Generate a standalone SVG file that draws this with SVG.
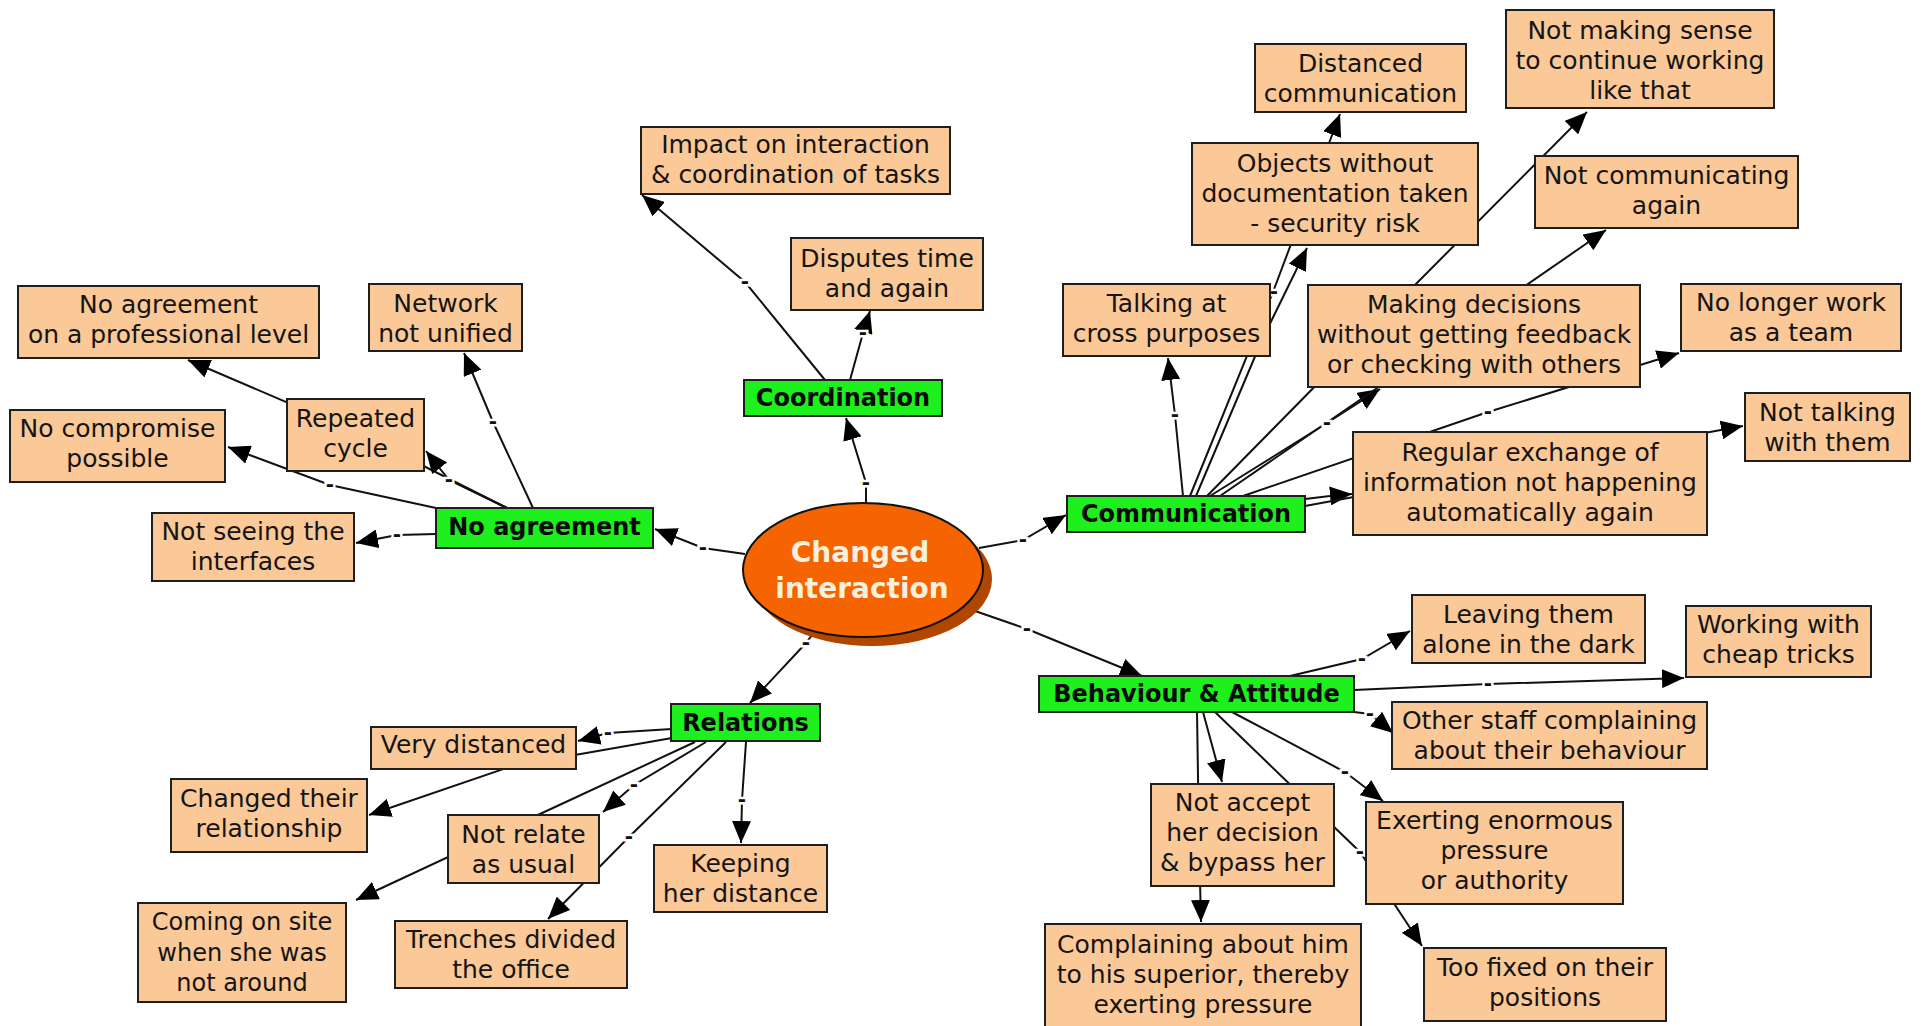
<svg xmlns="http://www.w3.org/2000/svg" width="1923" height="1026" viewBox="0 0 1923 1026">
  <style>
    .o { fill: #fbc897; stroke: #1e1e1e; stroke-width: 2; }
    .g { fill: #1ef01e; stroke: #1e1e1e; stroke-width: 2; }
    .t { font-family: "DejaVu Sans", Verdana, sans-serif; font-size: 25px; fill: #151515; text-anchor: middle; }
    .gt { font-family: "DejaVu Sans", Verdana, sans-serif; font-size: 24px; font-weight: bold; fill: #0a0a0a; text-anchor: middle; }
    .ct { font-family: "DejaVu Sans", Verdana, sans-serif; font-size: 28px; font-weight: bold; fill: #f6f0dc; text-anchor: middle; }
    .c { fill: none; stroke: #111; stroke-width: 2; }
    .lb { font-family: "DejaVu Sans", sans-serif; font-size: 20px; font-weight: bold; fill: #111; stroke: #fff; stroke-width: 5; paint-order: stroke; text-anchor: middle; }
  </style>
  <defs>
    <marker id="arr" markerUnits="userSpaceOnUse" markerWidth="23" markerHeight="19" refX="22" refY="9.5" orient="auto">
      <path d="M0,0 L22,9.5 L0,19 z" fill="#000"/>
    </marker>
  </defs>
  <rect width="1923" height="1026" fill="#fff"/>

  <!-- connections: source, linking phrase point, target -->
  <g id="connectors">
    <!-- from the central concept -->
    <polyline class="c" marker-end="url(#arr)" points="866,503 866,483 846,418"/>
    <polyline class="c" marker-end="url(#arr)" points="745,554 703,548 655,529"/>
    <polyline class="c" marker-end="url(#arr)" points="979,548 1023,540 1066,515"/>
    <polyline class="c" marker-end="url(#arr)" points="975,611 1027,629 1142,676"/>
    <polyline class="c" marker-end="url(#arr)" points="812,635 806,643 750,703"/>

    <!-- Coordination -->
    <polyline class="c" marker-end="url(#arr)" points="825,380 745,282 642,195"/>
    <polyline class="c" marker-end="url(#arr)" points="850,380 863,333 870,311"/>

    <!-- No agreement -->
    <polyline class="c" marker-end="url(#arr)" points="507,508 356,432 188,360"/>
    <polyline class="c" marker-end="url(#arr)" points="507,508 449,480 426,451"/>
    <polyline class="c" marker-end="url(#arr)" points="533,508 493,422 464,353"/>
    <polyline class="c" marker-end="url(#arr)" points="436,508 330,485 228,447"/>
    <polyline class="c" marker-end="url(#arr)" points="436,534 397,535 356,543"/>

    <!-- Communication -->
    <polyline class="c" marker-end="url(#arr)" points="1183,496 1175,415 1168,358"/>
    <polyline class="c" marker-end="url(#arr)" points="1190,496 1273,292 1340,114"/>
    <polyline class="c" marker-end="url(#arr)" points="1196,496 1262,340 1307,248"/>
    <polyline class="c" marker-end="url(#arr)" points="1207,496 1400,300 1587,112"/>
    <polyline class="c" marker-end="url(#arr)" points="1210,496 1327,423 1380,389"/>
    <polyline class="c" marker-end="url(#arr)" points="1220,496 1450,338 1606,230"/>
    <polyline class="c" marker-end="url(#arr)" points="1243,496 1488,412 1679,353"/>
    <polyline class="c" marker-end="url(#arr)" points="1305,499 1330,496 1352,494"/>
    <polyline class="c" marker-end="url(#arr)" points="1305,506 1500,470 1743,426"/>

    <!-- Behaviour & Attitude -->
    <polyline class="c" marker-end="url(#arr)" points="1290,676 1362,659 1410,631"/>
    <polyline class="c" marker-end="url(#arr)" points="1354,690 1488,684 1684,678"/>
    <polyline class="c" marker-end="url(#arr)" points="1354,712 1370,714 1393,733"/>
    <polyline class="c" marker-end="url(#arr)" points="1203,712 1212,745 1222,782"/>
    <polyline class="c" marker-end="url(#arr)" points="1197,712 1199,840 1201,922"/>
    <polyline class="c" marker-end="url(#arr)" points="1215,712 1360,852 1422,946"/>
    <polyline class="c" marker-end="url(#arr)" points="1232,712 1345,772 1383,801"/>

    <!-- Relations -->
    <polyline class="c" marker-end="url(#arr)" points="672,729 608,733 578,741"/>
    <polyline class="c" marker-end="url(#arr)" points="672,738 512,766 369,815"/>
    <polyline class="c" marker-end="url(#arr)" points="695,742 540,814 356,900"/>
    <polyline class="c" marker-end="url(#arr)" points="706,742 634,785 603,812"/>
    <polyline class="c" marker-end="url(#arr)" points="726,742 629,837 548,919"/>
    <polyline class="c" marker-end="url(#arr)" points="746,742 742,800 741,843"/>

    <!-- linking phrases -->
    <g id="link-labels">
      <text class="lb" x="866" y="489">-</text>
      <text class="lb" x="703" y="554">-</text>
      <text class="lb" x="1023" y="546">-</text>
      <text class="lb" x="1027" y="635">-</text>
      <text class="lb" x="806" y="649">-</text>
      <text class="lb" x="745" y="288">-</text>
      <text class="lb" x="863" y="339">-</text>
      <text class="lb" x="449" y="486">-</text>
      <text class="lb" x="493" y="428">-</text>
      <text class="lb" x="330" y="491">-</text>
      <text class="lb" x="397" y="541">-</text>
      <text class="lb" x="1175" y="421">-</text>
      <text class="lb" x="1274" y="298">-</text>
      <text class="lb" x="1327" y="429">-</text>
      <text class="lb" x="1488" y="418">-</text>
      <text class="lb" x="1362" y="665">-</text>
      <text class="lb" x="1488" y="690">-</text>
      <text class="lb" x="1370" y="720">-</text>
      <text class="lb" x="1360" y="858">-</text>
      <text class="lb" x="1345" y="778">-</text>
      <text class="lb" x="608" y="739">-</text>
      <text class="lb" x="634" y="791">-</text>
      <text class="lb" x="629" y="843">-</text>
      <text class="lb" x="742" y="806">-</text>
    </g>
  </g>

  <!-- central concept -->
  <g id="n-changed-interaction">
    <ellipse cx="872" cy="579" rx="120" ry="67" fill="#b04600"/>
    <ellipse cx="863" cy="570" rx="120" ry="67" fill="#f56400" stroke="#111" stroke-width="2"/>
    <text class="ct" x="860" y="562">Changed</text>
    <text class="ct" x="862" y="598">interaction</text>
  </g>

  <!-- category concepts -->
  <g id="n-coordination">
    <rect class="g" x="744" y="380" width="198" height="36"/>
    <text class="gt" x="843" y="406">Coordination</text>
  </g>
  <g id="n-no-agreement">
    <rect class="g" x="436" y="508" width="217" height="40"/>
    <text class="gt" x="544.5" y="535">No agreement</text>
  </g>
  <g id="n-communication">
    <rect class="g" x="1067" y="496" width="238" height="36"/>
    <text class="gt" x="1186" y="522">Communication</text>
  </g>
  <g id="n-behaviour">
    <rect class="g" x="1039" y="676" width="315" height="36"/>
    <text class="gt" x="1196.5" y="702">Behaviour &amp; Attitude</text>
  </g>
  <g id="n-relations">
    <rect class="g" x="671" y="704" width="149" height="37"/>
    <text class="gt" x="745.5" y="731">Relations</text>
  </g>

  <!-- Coordination -->
  <g id="n-impact">
    <rect class="o" x="641" y="127" width="309" height="67"/>
    <text class="t"><tspan x="795.5" y="153">Impact on interaction</tspan><tspan x="795.5" y="183">&amp; coordination of tasks</tspan></text>
  </g>
  <g id="n-disputes">
    <rect class="o" x="791" y="238" width="192" height="72"/>
    <text class="t"><tspan x="887" y="267">Disputes time</tspan><tspan x="887" y="297">and again</tspan></text>
  </g>

  <!-- Communication -->
  <g id="n-talking">
    <rect class="o" x="1063" y="284" width="207" height="72"/>
    <text class="t"><tspan x="1166.5" y="312">Talking at</tspan><tspan x="1166.5" y="342">cross purposes</tspan></text>
  </g>
  <g id="n-distanced-comm">
    <rect class="o" x="1255" y="44" width="211" height="68"/>
    <text class="t"><tspan x="1360.5" y="72">Distanced</tspan><tspan x="1360.5" y="102">communication</tspan></text>
  </g>
  <g id="n-no-sense">
    <rect class="o" x="1506" y="10" width="268" height="98"/>
    <text class="t"><tspan x="1640" y="39">Not making sense</tspan><tspan x="1640" y="69">to continue working</tspan><tspan x="1640" y="99">like that</tspan></text>
  </g>
  <g id="n-objects">
    <rect class="o" x="1192" y="143" width="286" height="102"/>
    <text class="t"><tspan x="1335" y="172">Objects without</tspan><tspan x="1335" y="202">documentation taken</tspan><tspan x="1335" y="232">- security risk</tspan></text>
  </g>
  <g id="n-not-communicating">
    <rect class="o" x="1535" y="156" width="263" height="72"/>
    <text class="t"><tspan x="1666.5" y="184">Not communicating</tspan><tspan x="1666.5" y="214">again</tspan></text>
  </g>
  <g id="n-decisions">
    <rect class="o" x="1308" y="285" width="332" height="102"/>
    <text class="t"><tspan x="1474" y="313">Making decisions</tspan><tspan x="1474" y="343">without getting feedback</tspan><tspan x="1474" y="373">or checking with others</tspan></text>
  </g>
  <g id="n-no-team">
    <rect class="o" x="1681" y="284" width="220" height="67"/>
    <text class="t"><tspan x="1791" y="311">No longer work</tspan><tspan x="1791" y="341">as a team</tspan></text>
  </g>
  <g id="n-not-talking">
    <rect class="o" x="1745" y="393" width="165" height="68"/>
    <text class="t"><tspan x="1827.5" y="421">Not talking</tspan><tspan x="1827.5" y="451">with them</tspan></text>
  </g>
  <g id="n-regular-exchange">
    <rect class="o" x="1353" y="432" width="354" height="103"/>
    <text class="t"><tspan x="1530" y="461">Regular exchange of</tspan><tspan x="1530" y="491">information not happening</tspan><tspan x="1530" y="521">automatically again</tspan></text>
  </g>

  <!-- Behaviour & Attitude -->
  <g id="n-leaving">
    <rect class="o" x="1412" y="595" width="233" height="68"/>
    <text class="t"><tspan x="1528.5" y="623">Leaving them</tspan><tspan x="1528.5" y="653">alone in the dark</tspan></text>
  </g>
  <g id="n-cheap-tricks">
    <rect class="o" x="1686" y="606" width="185" height="71"/>
    <text class="t"><tspan x="1778.5" y="633">Working with</tspan><tspan x="1778.5" y="663">cheap tricks</tspan></text>
  </g>
  <g id="n-other-staff">
    <rect class="o" x="1392" y="702" width="315" height="67"/>
    <text class="t"><tspan x="1549.5" y="729">Other staff complaining</tspan><tspan x="1549.5" y="759">about their behaviour</tspan></text>
  </g>
  <g id="n-not-accept">
    <rect class="o" x="1151" y="784" width="183" height="102"/>
    <text class="t"><tspan x="1242.5" y="811">Not accept</tspan><tspan x="1242.5" y="841">her decision</tspan><tspan x="1242.5" y="871">&amp; bypass her</tspan></text>
  </g>
  <g id="n-exerting">
    <rect class="o" x="1366" y="802" width="257" height="102"/>
    <text class="t"><tspan x="1494.5" y="829">Exerting enormous</tspan><tspan x="1494.5" y="859">pressure</tspan><tspan x="1494.5" y="889">or authority</tspan></text>
  </g>
  <g id="n-complaining">
    <rect class="o" x="1045" y="924" width="316" height="106"/>
    <text class="t"><tspan x="1203" y="953">Complaining about him</tspan><tspan x="1203" y="983">to his superior, thereby</tspan><tspan x="1203" y="1013">exerting pressure</tspan></text>
  </g>
  <g id="n-too-fixed">
    <rect class="o" x="1424" y="948" width="242" height="73"/>
    <text class="t"><tspan x="1545" y="976">Too fixed on their</tspan><tspan x="1545" y="1006">positions</tspan></text>
  </g>

  <!-- No agreement -->
  <g id="n-professional">
    <rect class="o" x="18" y="286" width="301" height="72"/>
    <text class="t"><tspan x="168.5" y="313">No agreement</tspan><tspan x="168.5" y="343">on a professional level</tspan></text>
  </g>
  <g id="n-network">
    <rect class="o" x="369" y="284" width="153" height="67"/>
    <text class="t"><tspan x="445.5" y="312">Network</tspan><tspan x="445.5" y="342">not unified</tspan></text>
  </g>
  <g id="n-repeated">
    <rect class="o" x="287" y="399" width="137" height="72"/>
    <text class="t"><tspan x="355.5" y="427">Repeated</tspan><tspan x="355.5" y="457">cycle</tspan></text>
  </g>
  <g id="n-no-compromise">
    <rect class="o" x="10" y="410" width="215" height="72"/>
    <text class="t"><tspan x="117.5" y="437">No compromise</tspan><tspan x="117.5" y="467">possible</tspan></text>
  </g>
  <g id="n-interfaces">
    <rect class="o" x="152" y="513" width="202" height="68"/>
    <text class="t"><tspan x="253" y="540">Not seeing the</tspan><tspan x="253" y="570">interfaces</tspan></text>
  </g>

  <!-- Relations -->
  <g id="n-very-distanced">
    <rect class="o" x="371" y="727" width="205" height="42"/>
    <text class="t" x="473.5" y="753">Very distanced</text>
  </g>
  <g id="n-relationship">
    <rect class="o" x="171" y="779" width="196" height="73"/>
    <text class="t"><tspan x="269" y="807">Changed their</tspan><tspan x="269" y="837">relationship</tspan></text>
  </g>
  <g id="n-not-relate">
    <rect class="o" x="448" y="815" width="151" height="68"/>
    <text class="t"><tspan x="523.5" y="843">Not relate</tspan><tspan x="523.5" y="873">as usual</tspan></text>
  </g>
  <g id="n-keeping">
    <rect class="o" x="654" y="845" width="173" height="67"/>
    <text class="t"><tspan x="740.5" y="872">Keeping</tspan><tspan x="740.5" y="902">her distance</tspan></text>
  </g>
  <g id="n-on-site">
    <rect class="o" x="138" y="903" width="208" height="99"/>
    <text class="t" style="font-size:24px"><tspan x="242" y="930">Coming on site</tspan><tspan x="242" y="961">when she was</tspan><tspan x="242" y="991">not around</tspan></text>
  </g>
  <g id="n-trenches">
    <rect class="o" x="395" y="921" width="232" height="67"/>
    <text class="t"><tspan x="511" y="948">Trenches divided</tspan><tspan x="511" y="978">the office</tspan></text>
  </g>
</svg>
